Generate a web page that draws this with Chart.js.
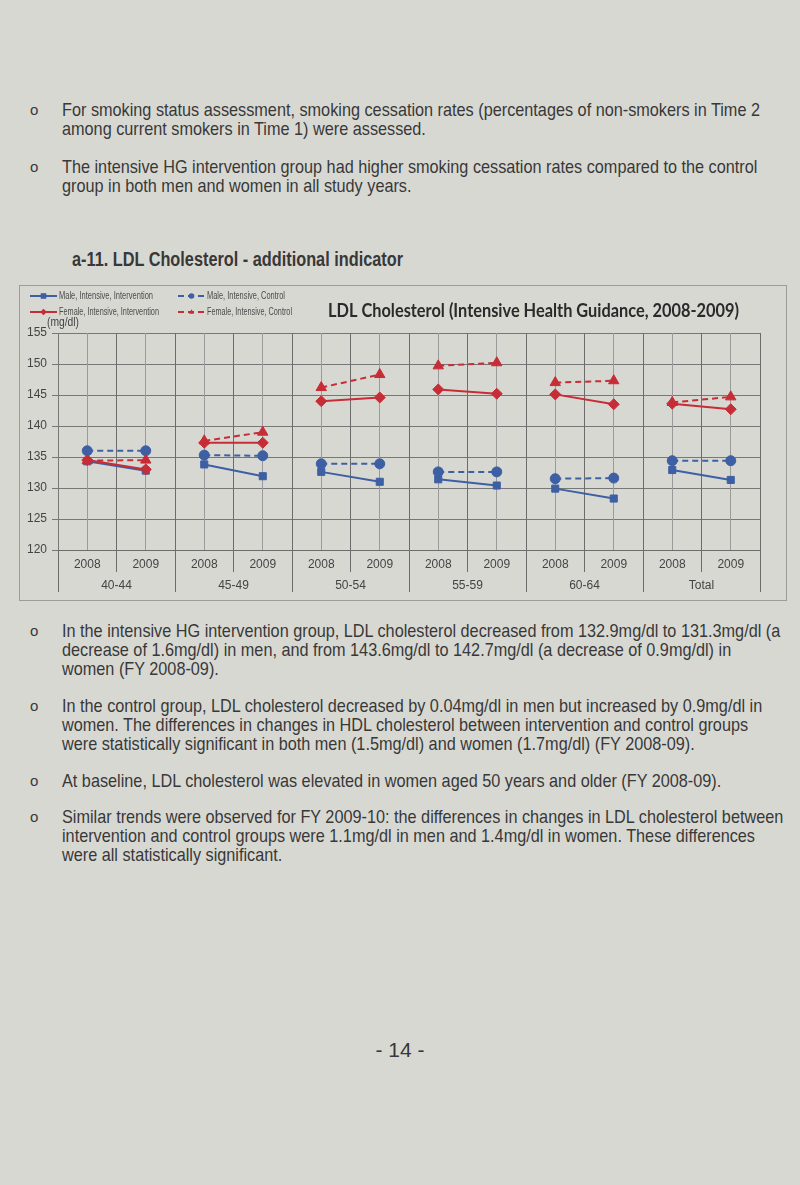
<!DOCTYPE html>
<html>
<head>
<meta charset="utf-8">
<script src="https://cdn.jsdelivr.net/npm/chart.js@4.4.1/dist/chart.umd.min.js"></script>
<style>
body { margin:0; width:800px; height:1185px; background:#d8d8d3; position:relative; overflow:hidden;
       font-family:"Liberation Sans",Arial,sans-serif; color:#383838; }
.p { position:absolute; left:62px; font-size:19px; line-height:19px; white-space:nowrap; transform-origin:0 0; }
.b { position:absolute; left:30px; font-family:"Liberation Sans",Arial,sans-serif; font-size:15px; line-height:19px; }
.h { position:absolute; left:72px; top:249px; font-size:20px; line-height:20px; font-weight:bold; white-space:nowrap; transform-origin:0 0; }
.pag { position:absolute; left:0; width:800px; top:1040px; text-align:center; font-size:21px; line-height:20px; }
#caixa { position:absolute; left:19px; top:285px; width:766px; height:314px; border:1px solid #9c9c9a; }
</style>
</head>
<body>

<span class="b" style="top:100px">o</span>
<div class="p" style="top:100px"><span id="linhaRef">For smoking status assessment, smoking cessation rates (percentages of non-smokers in Time 2</span><br>among current smokers in Time 1) were assessed.</div>

<span class="b" style="top:157px">o</span>
<div class="p" style="top:157px">The intensive HG intervention group had higher smoking cessation rates compared to the control<br>group in both men and women in all study years.</div>

<div class="h"><span id="tituloRef">a-11. LDL Cholesterol - additional indicator</span></div>

<div id="caixa"><canvas id="grafico" width="766" height="314"></canvas></div>

<span class="b" style="top:621px">o</span>
<div class="p" style="top:621px">In the intensive HG intervention group, LDL cholesterol decreased from 132.9mg/dl to 131.3mg/dl (a<br>decrease of 1.6mg/dl) in men, and from 143.6mg/dl to 142.7mg/dl (a decrease of 0.9mg/dl) in<br>women (FY 2008-09).</div>

<span class="b" style="top:696px">o</span>
<div class="p" style="top:696px">In the control group, LDL cholesterol decreased by 0.04mg/dl in men but increased by 0.9mg/dl in<br>women. The differences in changes in HDL cholesterol between intervention and control groups<br>were statistically significant in both men (1.5mg/dl) and women (1.7mg/dl) (FY 2008-09).</div>

<span class="b" style="top:771px">o</span>
<div class="p" style="top:771px">At baseline, LDL cholesterol was elevated in women aged 50 years and older (FY 2008-09).</div>

<span class="b" style="top:807px">o</span>
<div class="p" style="top:807px">Similar trends were observed for FY 2009-10: the differences in changes in LDL cholesterol between<br>intervention and control groups were 1.1mg/dl in men and 1.4mg/dl in women. These differences<br>were all statistically significant.</div>

<div class="pag">- 14 -</div>

<script>
// dados do grafico
var anos = ['2008','2009','2008','2009','2008','2009','2008','2009','2008','2009','2008','2009'];
var grupos = ['40-44','45-49','50-54','55-59','60-64','Total'];
var yTicks = [120,125,130,135,140,145,150,155];

var homemInterv = [134.3,132.8, 133.8,131.9, 132.6,131.0, 131.4,130.4, 129.9,128.3, 132.9,131.3];
var homemControle = [136.0,136.0, 135.3,135.2, 133.9,133.9, 132.6,132.6, 131.5,131.6, 134.4,134.4];
var mulherInterv = [134.5,133.0, 137.3,137.3, 144.0,144.6, 145.9,145.2, 145.1,143.5, 143.6,142.7];
var mulherControle = [134.4,134.5, 137.6,139.0, 146.2,148.3, 149.7,150.2, 147.0,147.3, 143.8,144.7];

var nomes = ['Male, Intensive, Intervention','Male, Intensive, Control',
             'Female, Intensive, Intervention','Female, Intensive, Control'];

var AZUL = '#3d5fa3';
var VERMELHO = '#c62d36';
var fonte = '"Liberation Sans",sans-serif';

// o texto da pagina original e mais estreito: comprime na horizontal
function ajustaTexto() {
    var k = 698 / document.getElementById('linhaRef').getBoundingClientRect().width;
    document.querySelectorAll('.p').forEach(function(el){ el.style.transform = 'scaleX(' + k + ')'; });
    var kt = 331 / document.getElementById('tituloRef').getBoundingClientRect().width;
    document.querySelector('.h').style.transform = 'scaleX(' + kt + ')';
}

function serie(nome, dados, cor, tracejado, estilo, raio, ordem) {
    return {
        label: nome,
        data: dados,
        borderColor: cor,
        backgroundColor: cor,
        borderWidth: 2,
        borderDash: tracejado ? [6,4] : [],
        pointStyle: estilo,
        pointRadius: raio,
        pointBorderWidth: 1,
        order: ordem,
        fill: false,
        tension: 0,
        segment: {
            // so liga 2008 -> 2009 dentro de cada faixa etaria
            borderColor: function(c){ return c.p0DataIndex % 2 ? 'rgba(0,0,0,0)' : cor; }
        }
    };
}

function marca(ctx, estilo, x, y, r) {
    ctx.beginPath();
    if (estilo === 'rect') {
        ctx.rect(x - r, y - r, 2*r, 2*r);
    } else if (estilo === 'rectRot') {
        ctx.moveTo(x, y - r*1.2); ctx.lineTo(x + r*1.2, y); ctx.lineTo(x, y + r*1.2); ctx.lineTo(x - r*1.2, y);
        ctx.closePath();
    } else if (estilo === 'triangle') {
        ctx.moveTo(x, y - r); ctx.lineTo(x + r*0.9, y + r*0.6); ctx.lineTo(x - r*0.9, y + r*0.6);
        ctx.closePath();
    } else {
        ctx.arc(x, y, r, 0, Math.PI*2);
    }
    ctx.fill();
}

// legenda, titulo e unidade desenhados por cima
var textos = {
    id: 'textos',
    afterDraw: function(chart) {
        var ctx = chart.ctx;
        ctx.save();
        var colX = [10, 158];
        var linY = [10, 26];
        var larguras = [94, 78, 100, 85];
        chart.data.datasets.forEach(function(ds, i){
            var x = colX[i % 2], y = linY[Math.floor(i / 2)];
            ctx.strokeStyle = ds.borderColor;
            ctx.fillStyle = ds.borderColor;
            ctx.lineWidth = 2;
            ctx.setLineDash(ds.borderDash);
            ctx.beginPath(); ctx.moveTo(x, y); ctx.lineTo(x + 27, y); ctx.stroke();
            ctx.setLineDash([]);
            marca(ctx, ds.pointStyle, x + 13.5, y, 2.8);
            ctx.fillStyle = '#4a4a4a';
            ctx.font = '10.5px ' + fonte;
            ctx.textBaseline = 'middle';
            ctx.textAlign = 'left';
            ctx.fillText(ds.label, x + 29, y, larguras[i]);
        });
        ctx.fillStyle = '#2a2a2a';
        ctx.font = 'bold 18.5px Lato, sans-serif';
        ctx.fillText('LDL Cholesterol (Intensive Health Guidance, 2008-2009)', 308, 25, 411);
        ctx.fillStyle = '#444';
        ctx.font = '12px ' + fonte;
        ctx.fillText('(mg/dl)', 27, 37, 32);
        ctx.restore();
    }
};

window.onload = function(){
    ajustaTexto();
    var contexto = document.getElementById('grafico').getContext('2d');
    var grafico = new Chart(contexto, {
        type: 'line',
        data: {
            labels: anos,
            datasets: [
                serie(nomes[0], homemInterv, AZUL, false, 'rect', 5, 3),
                serie(nomes[1], homemControle, AZUL, true, 'circle', 5, 2),
                serie(nomes[2], mulherInterv, VERMELHO, false, 'rectRot', 5.5, 1),
                serie(nomes[3], mulherControle, VERMELHO, true, 'triangle', 6, 0)
            ]
        },
        options: {
            responsive: false,
            animation: false,
            events: [],
            layout: { padding: { top: 47, right: 26, bottom: 7, left: 0 } },
            plugins: { legend: { display: false }, tooltip: { enabled: false } },
            scales: {
                y: {
                    min: yTicks[0], max: yTicks[yTicks.length - 1],
                    afterBuildTicks: function(s){ s.ticks = yTicks.map(function(v){ return {value: v}; }); },
                    ticks: { padding: 5, color: '#444', font: { family: fonte, size: 12 } },
                    grid: { color: '#777', tickLength: 6 },
                    border: { color: '#777' },
                    afterFit: function(s){ s.width = 38; }
                },
                x: {
                    offset: true, weight: 0,
                    grid: { offset: true, color: '#6c6c6c', tickLength: 22 },
                    border: { color: '#6c6c6c' },
                    ticks: { padding: -15, autoSkip: false, maxRotation: 0, color: '#444', font: { family: fonte, size: 12 } },
                    afterFit: function(s){ s.height = 21; }
                },
                x2: {
                    type: 'category', labels: grupos, position: 'bottom', weight: 1, offset: true,
                    grid: { offset: true, drawOnChartArea: false, color: '#6c6c6c', tickLength: 21 },
                    border: { display: false },
                    ticks: { padding: -14, autoSkip: false, maxRotation: 0, color: '#444', font: { family: fonte, size: 12 } },
                    afterFit: function(s){ s.height = 22; }
                },
                xMenor: {
                    type: 'category', position: 'top', offset: true,
                    grid: { offset: false, color: '#9a9a9a', drawTicks: false },
                    border: { display: false },
                    ticks: { display: false },
                    afterFit: function(s){ s.height = 0; }
                }
            }
        },
        plugins: [textos]
    });
}
</script>
</body>
</html>
